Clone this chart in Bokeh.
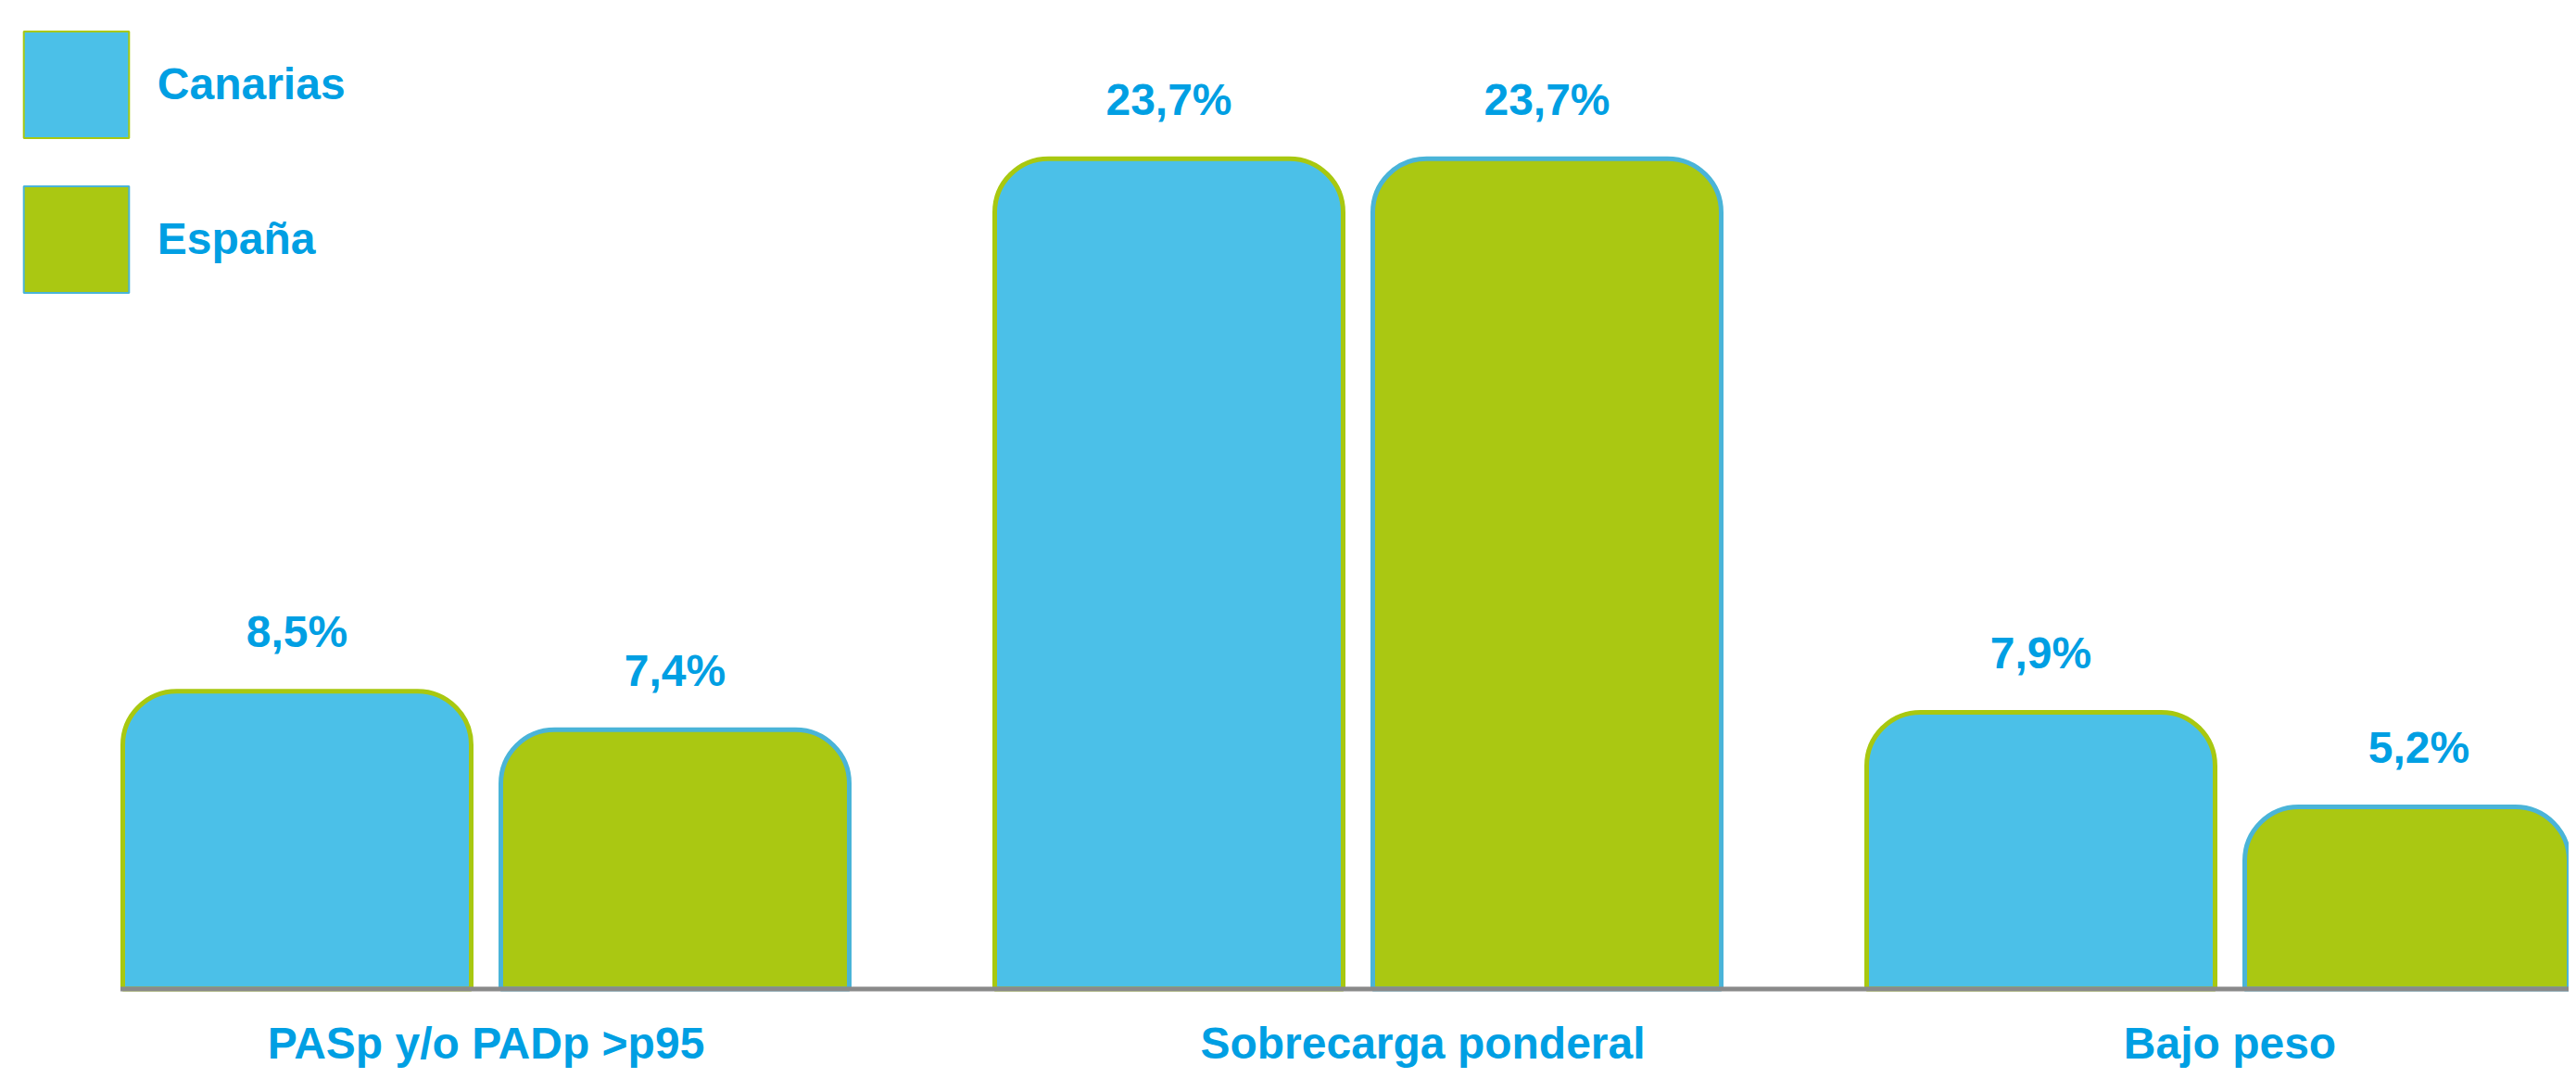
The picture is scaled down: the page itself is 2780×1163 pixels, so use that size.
from bokeh.plotting import figure
from bokeh.models import ColumnDataSource, Range1d, Legend, LegendItem
from bokeh.core.properties import value
from bokeh.embed import file_html
from bokeh.resources import INLINE

# ---- data ----
categories = ["PASp y/o PADp >p95", "Sobrecarga ponderal", "Bajo peso"]
canarias = [8.5, 23.7, 7.9]
espana = [7.4, 23.7, 5.2]
series_names = ["Canarias", "España"]

# ---- style ----
FONT = "Liberation Sans"
FS = "48px"
TXT = "#009FE3"
BLUE = "#4BC0E8"
GREEN = "#AAC812"
BLUE_LINE = "#4AB4D8"
GREEN_LINE = "#A8C810"
AXIS = "#8A8A8A"

W, H = 2772, 1155
PX_X = 941.0      # pixels per category step
PX_Y = 37.8       # pixels per percentage point
X0_PX = 524.0     # first category centre from frame left
Y0_PX = 88.5      # baseline from frame bottom

x_start = -X0_PX / PX_X
y_start = -Y0_PX / PX_Y

bar_w = 376.0 / PX_X
off = 204.0 / PX_X
lab_dy = 64.0 / PX_Y
cat_dy = -58.0 / PX_Y
cat_dx_px = [0, 70, 0]

p = figure(width=W, height=H, output_backend="svg", toolbar_location=None,
           x_range=Range1d(x_start, x_start + W / PX_X),
           y_range=Range1d(y_start, y_start + H / PX_Y),
           x_axis_location=None, y_axis_location=None,
           min_border=0, outline_line_color=None)
p.grid.visible = False
p.background_fill_color = "white"

xs = list(range(len(categories)))
x_can = [x - off for x in xs]
x_esp = [x + off for x in xs]


def fmt(v):
    return f"{v:.1f}%".replace(".", ",")


src_can = ColumnDataSource(dict(x=x_can, top=canarias, lab=[fmt(v) for v in canarias],
                                ly=[v + lab_dy for v in canarias]))
src_esp = ColumnDataSource(dict(x=x_esp, top=espana, lab=[fmt(v) for v in espana],
                                ly=[v + lab_dy for v in espana]))

# legend proxies: tiny glyphs hidden behind the tallest bar (drawn first)
hide_x = x_can[1]
r1 = p.vbar(x=[hide_x], top=[1.0], bottom=0.5, width=0.01,
            fill_color=BLUE, line_color=GREEN_LINE, line_width=2)
r2 = p.vbar(x=[hide_x], top=[1.0], bottom=0.5, width=0.01,
            fill_color=GREEN, line_color=BLUE_LINE, line_width=2)

radius = 58
p.vbar(x="x", top="top", bottom=0, width=bar_w, source=src_can,
       fill_color=BLUE, line_color=GREEN_LINE, line_width=5,
       border_radius=(radius, radius, 0, 0))
p.vbar(x="x", top="top", bottom=0, width=bar_w, source=src_esp,
       fill_color=GREEN, line_color=BLUE_LINE, line_width=5,
       border_radius=(radius, radius, 0, 0))

# baseline axis line
left_edge = x_can[0] - bar_w / 2 - 2.5 / PX_X
p.segment(x0=[left_edge], y0=[0], x1=[x_start + W / PX_X + 1], y1=[0],
          line_color=AXIS, line_width=5)

for src in (src_can, src_esp):
    p.text(x="x", y="ly", text="lab", source=src, text_font=value(FONT),
           text_font_size=FS, text_font_style="bold", text_color=TXT,
           text_align="center", text_baseline="middle")

cat_src = ColumnDataSource(dict(x=xs, y=[cat_dy] * len(xs), t=categories, dx=cat_dx_px))
p.text(x="x", y="y", text="t", x_offset="dx", source=cat_src, text_font=value(FONT),
       text_font_size=FS, text_font_style="bold", text_color=TXT,
       text_align="center", text_baseline="middle")

gw, gh, gap = 142, 144, 23
legend = Legend(items=[LegendItem(label=series_names[0], renderers=[r1]),
                       LegendItem(label=series_names[1], renderers=[r2])],
                location=(10.8, H - 18.6 - (2 * gh + gap)),
                glyph_width=gw, glyph_height=gh, spacing=gap,
                padding=0, margin=0, label_standoff=17,
                border_line_color=None, background_fill_alpha=0,
                label_text_font=FONT, label_text_font_size=FS,
                label_text_font_style="bold", label_text_color=TXT,
                label_text_baseline="middle")
p.add_layout(legend)

open("out.html", "w").write(file_html(p, INLINE))
